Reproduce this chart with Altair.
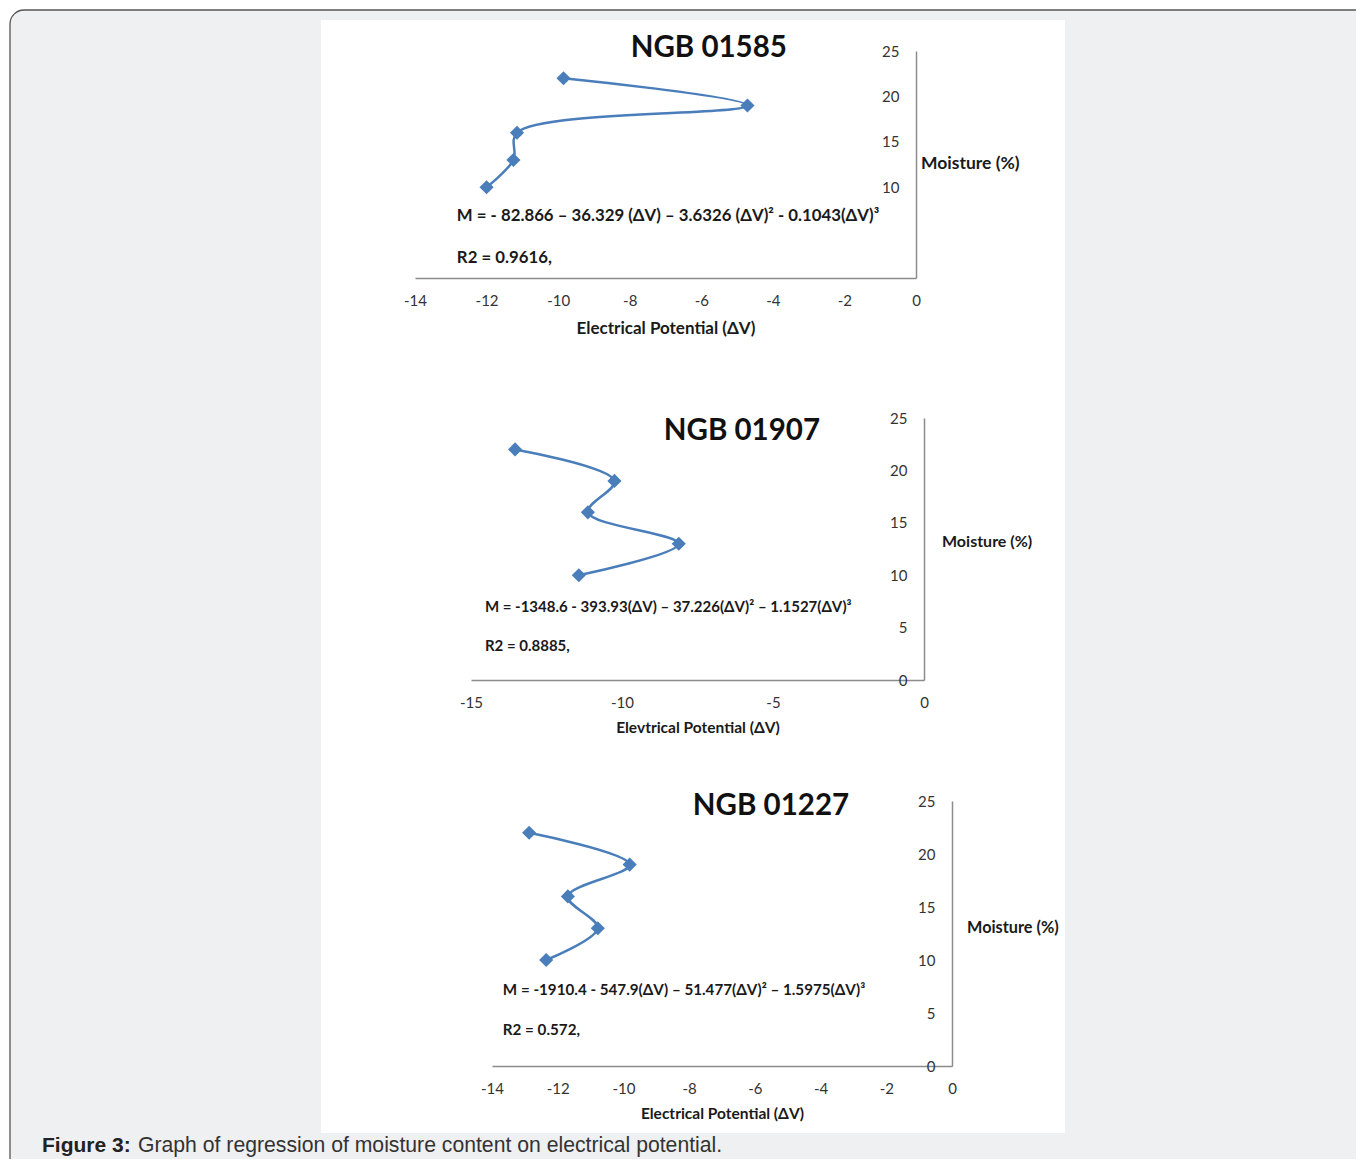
import altair as alt
import pandas as pd

# ---------------- data ----------------
moisture = [22, 19, 16, 13, 10]
ev_01585 = [-9.85, -4.71, -11.15, -11.25, -12.0]
ev_01907 = [-13.54, -10.25, -11.13, -8.12, -11.43]
ev_01227 = [-12.87, -9.81, -11.69, -10.78, -12.35]

panel_titles = ["NGB 01585", "NGB 01907", "NGB 01227"]
equations = [
    "M = - 82.866 – 36.329 (ΔV) – 3.6326 (ΔV)²  - 0.1043(ΔV)³",
    "M = -1348.6 - 393.93(ΔV) – 37.226(ΔV)² – 1.1527(ΔV)³",
    "M = -1910.4 - 547.9(ΔV) – 51.477(ΔV)² – 1.5975(ΔV)³",
]
r2_texts = ["R2 = 0.9616,", "R2 = 0.8885,", "R2 = 0.572,"]
x_titles = ["Electrical Potential (ΔV)", "Elevtrical Potential (ΔV)", "Electrical Potential (ΔV)"]
y_title = "Moisture (%)"
x_domains = [[-14, 0], [-15, 0], [-14, 0]]
x_ticks = [[-14, -12, -10, -8, -6, -4, -2, 0], [-15, -10, -5, 0], [-14, -12, -10, -8, -6, -4, -2, 0]]
y_ticks = [[10, 15, 20, 25], [0, 5, 10, 15, 20, 25], [0, 5, 10, 15, 20, 25]]
caption_bold = "Figure 3:"
caption_rest = "Graph of regression of moisture content on electrical potential."

# annotation anchors in data units (x = ΔV, y = moisture)
title_pos = [(-5.79, 25.33), (-6.03, 23.76), (-5.51, 24.53)]
eq_pos = [(-12.83, 6.81), (-14.54, 6.97), (-13.67, 7.17)]
r2_pos = [(-12.83, 2.18), (-14.54, 3.24), (-13.67, 3.4)]
ylab_pos = [12.54, 13.17, 13.02]

# ---------------- layout ----------------
W, H = 1348, 1151
x_ranges = [[407, 908], [463, 916], [484, 944]]
y_ranges = [[270, 43], [672, 410], [1058, 793]]
ylab_dx = [5, 18, 15]
title_pad = [12, 10, 10]
text_size = [16.8, 15, 15.2]
ylab_size = [17.5, 16, 16.3]
axis_title_size = [17, 15.5, 15.5]
label_size = [15, 15, 15]
BLUE = "#4a7ebb"
FONT = "Lato"

evs = [ev_01585, ev_01907, ev_01227]


def panel(i):
    df = pd.DataFrame({"ev": evs[i], "m": moisture, "ord": list(range(len(moisture)))})
    xs = alt.Scale(domain=x_domains[i], range=x_ranges[i], nice=False, zero=False)
    ys = alt.Scale(domain=[0, 25], range=y_ranges[i], nice=False, zero=False)
    xaxis = alt.Axis(
        orient="bottom", offset=y_ranges[i][0] - H, values=x_ticks[i], zindex=2,
        labelExpr="'' + datum.value", title=x_titles[i], grid=False, ticks=False, tickSize=0,
        labelFlush=False, labelOverlap=False,
        domainColor="#8c8c8c", domainWidth=1.5, labelFont=FONT, labelFontSize=label_size[i],
        labelColor="#333333", labelPadding=15, titleFont=FONT, titleFontSize=axis_title_size[i],
        titleFontWeight="bold", titleColor="#1a1a1a", titlePadding=title_pad[i],
    )
    yaxis = alt.Axis(
        orient="left", offset=-x_ranges[i][1], values=y_ticks[i], zindex=2,
        labelExpr="'' + datum.value", title=None, grid=False, ticks=False, tickSize=0,
        labelFlush=False, labelOverlap=False,
        domainColor="#8c8c8c", domainWidth=1.5, labelFont=FONT, labelFontSize=label_size[i],
        labelColor="#333333", labelPadding=17,
    )
    X = alt.X("ev:Q", scale=xs, axis=xaxis)
    Y = alt.Y("m:Q", scale=ys, axis=yaxis)
    base = alt.Chart(df).encode(x=X, y=Y, order=alt.Order("ord:Q"))
    line = base.mark_line(interpolate="catmull-rom", color=BLUE, strokeWidth=2.5)
    pts = base.mark_point(shape="diamond", filled=True, size=200, color=BLUE, opacity=1)

    tdf = pd.DataFrame({"ev": [title_pos[i][0]], "m": [title_pos[i][1]], "t": [panel_titles[i]]})
    title = alt.Chart(tdf).mark_text(font=FONT, fontSize=29.5, fontWeight="bold", color="#111111",
                                     align="center", baseline="middle").encode(x=X, y=Y, text="t:N")
    edf = pd.DataFrame({"ev": [eq_pos[i][0], r2_pos[i][0]], "m": [eq_pos[i][1], r2_pos[i][1]],
                        "t": [equations[i], r2_texts[i]]})
    eqs = alt.Chart(edf).mark_text(font=FONT, fontSize=text_size[i], fontWeight="bold", color="#1a1a1a",
                                   align="left", baseline="middle").encode(x=X, y=Y, text="t:N")
    ydf = pd.DataFrame({"ev": [0], "m": [ylab_pos[i]], "t": [y_title]})
    ylab = alt.Chart(ydf).mark_text(font=FONT, fontSize=ylab_size[i], fontWeight="bold", color="#1a1a1a",
                                    align="left", baseline="middle", dx=ylab_dx[i]).encode(x=X, y=Y, text="t:N")
    return alt.layer(line, pts, title, eqs, ylab)


one = pd.DataFrame({"k": [0]})
outer = alt.Chart(one).mark_rect(fill="#eff0f2", stroke="#555555", strokeWidth=1.3, cornerRadius=14).encode(
    x=alt.value(2), x2=alt.value(1390), y=alt.value(2), y2=alt.value(1200))
inner = alt.Chart(one).mark_rect(fill="#ffffff").encode(
    x=alt.value(313), x2=alt.value(1057), y=alt.value(12), y2=alt.value(1125))

cap_df = pd.DataFrame({"a": [caption_bold], "b": [caption_rest]})
cap1 = alt.Chart(cap_df).mark_text(font="Liberation Sans", fontSize=21, fontWeight="bold", color="#222222",
                                   align="left", baseline="alphabetic").encode(
    x=alt.value(34), y=alt.value(1144), text="a:N")
cap2 = alt.Chart(cap_df).mark_text(font="Liberation Sans", fontSize=21.2, color="#333333",
                                   align="left", baseline="alphabetic").encode(
    x=alt.value(130), y=alt.value(1144), text="b:N")

chart = alt.layer(outer, inner, panel(0), panel(1), panel(2), cap1, cap2).resolve_scale(
    x="independent", y="independent").resolve_axis(x="independent", y="independent").properties(
    width=W, height=H, autosize=alt.AutoSizeParams(type="none"), padding=0, background="#ffffff"
).configure_view(strokeWidth=0)

chart.save("out.html", embed_options={"renderer": "svg", "actions": False})
